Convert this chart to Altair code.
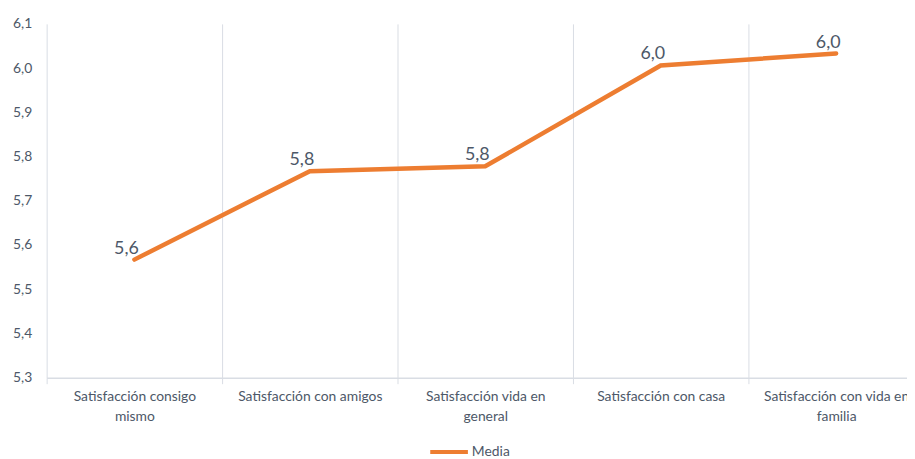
import json
import altair as alt
import pandas as pd

categorias = [
    "Satisfacción consigo mismo",
    "Satisfacción con amigos",
    "Satisfacción vida en general",
    "Satisfacción con casa",
    "Satisfacción con vida en familia",
]
lineas_etiqueta = [
    ["Satisfacción consigo", "mismo"],
    ["Satisfacción con amigos"],
    ["Satisfacción vida en", "general"],
    ["Satisfacción con casa"],
    ["Satisfacción con vida en", "familia"],
]
media = [5.567, 5.767, 5.778, 6.006, 6.033]
serie = "Media"
y_ticks = [5.3, 5.4, 5.5, 5.6, 5.7, 5.8, 5.9, 6.0, 6.1]

ORANGE = "#ED7D31"
TEXT = "#4d5868"
GRID = "#d9dde4"
FONT = "Lato"

df = pd.DataFrame({"categoria": categorias, "valor": media, "serie": [serie] * len(categorias)})

# label expression for wrapped axis labels
expr = "datum.label"
for cat, lines in reversed(list(zip(categorias, lineas_etiqueta))):
    expr = f"datum.label == {json.dumps(cat, ensure_ascii=False)} ? {json.dumps(lines, ensure_ascii=False)} : ({expr})"

x_enc = alt.X(
    "categoria:N",
    sort=categorias,
    scale=alt.Scale(range=[0, 885], paddingInner=0, paddingOuter=0),
    axis=alt.Axis(
        title=None,
        labelAngle=0,
        tickBand="extent",
        grid=True,
        gridColor=GRID,
        gridWidth=1,
        ticks=True,
        tickSize=6,
        tickColor=GRID,
        domain=True,
        domainColor=GRID,
        domainWidth=1.5,
        labelExpr=expr,
        labelFont=FONT,
        labelFontSize=14,
        labelColor=TEXT,
        labelPadding=6,
        labelLineHeight=20,
        labelBaseline="top",
        labelLimit=400,
    ),
)
y_enc = alt.Y(
    "valor:Q",
    scale=alt.Scale(domain=[5.3, 6.1], nice=False, zero=False),
    axis=alt.Axis(
        title=None,
        values=y_ticks,
        grid=False,
        ticks=False,
        domain=False,
        labelExpr="replace(format(datum.value, '.1f'), '.', ',')",
        labelFont=FONT,
        labelFontSize=14,
        labelColor=TEXT,
        labelPadding=15,
    ),
)

base = alt.Chart(df)

line = base.mark_line(strokeWidth=4.5, strokeCap="round", strokeJoin="miter").encode(
    x=x_enc,
    y=y_enc,
    color=alt.Color(
        "serie:N",
        scale=alt.Scale(domain=[serie], range=[ORANGE]),
        legend=alt.Legend(
            title=None,
            orient="none",
            legendX=385,
            legendY=411,
            symbolType="stroke",
            symbolSize=1444,
            symbolStrokeWidth=4,
            symbolStrokeColor=ORANGE,
            labelFont=FONT,
            labelFontSize=14,
            labelColor=TEXT,
            labelOffset=2,
            padding=0,
        ),
    ),
)

labels = base.transform_calculate(
    etiqueta="replace(format(datum.valor, '.1f'), '.', ',')"
).mark_text(
    align="center", baseline="alphabetic", dx=-8, dy=-6, fontSize=18, font=FONT, color=TEXT
).encode(
    x=alt.X("categoria:N", sort=categorias),
    y="valor:Q",
    text="etiqueta:N",
)

chart = (
    alt.layer(line, labels)
    .properties(
        width=868,
        height=357,
        autosize=alt.AutoSizeParams(type="none"),
        padding={"left": 39, "top": 14, "right": 0, "bottom": 80},
        background="white",
    )
    .configure_view(stroke=None)
)

chart.save("out.html", embed_options={"renderer": "svg", "actions": False})
